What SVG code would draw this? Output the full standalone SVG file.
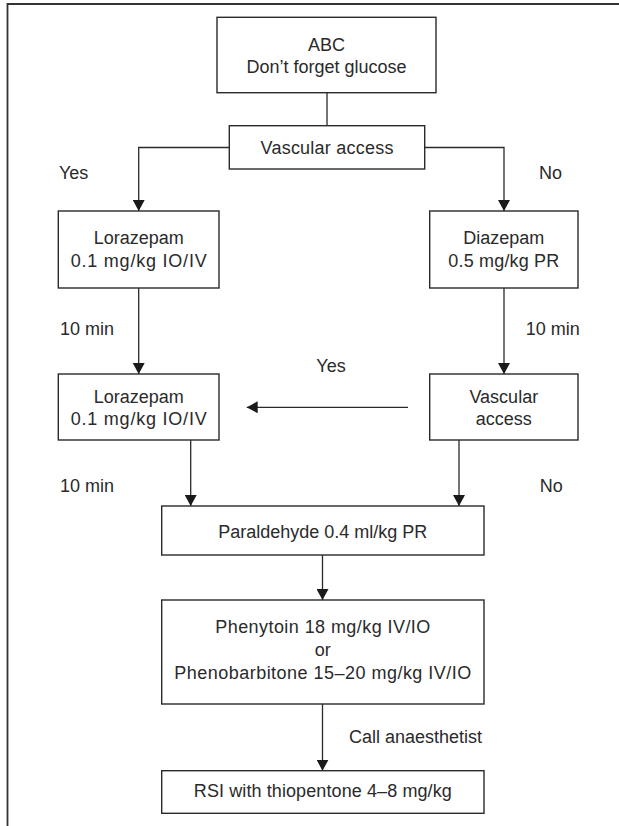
<svg xmlns="http://www.w3.org/2000/svg" width="619" height="826" viewBox="0 0 619 826">
<style>
.box{fill:#fff;stroke:#2a2a2a;stroke-width:1.4}
.t{font-family:"Liberation Sans",Arial,sans-serif;font-size:18px;fill:#2a2a2a}
.c{text-anchor:middle}
.ln{fill:none;stroke:#2a2a2a;stroke-width:1.3}
.frame{fill:none;stroke:#333;stroke-width:1.8}
</style>
<defs>
<marker id="ah" markerUnits="userSpaceOnUse" markerWidth="11" markerHeight="12" refX="11" refY="6" orient="auto" viewBox="0 0 11 12">
<path d="M0,0 L11,6 L0,12 z" fill="#1a1a1a"/>
</marker>
</defs>
<rect width="619" height="826" fill="#fff"/>
<path class="frame" d="M7.5,826 V4 H619"/>

<g id="connectors">
<path class="ln" d="M327,92.7 V125.7"/>
<path class="ln" d="M229.3,147.5 H138.7 V211" marker-end="url(#ah)"/>
<path class="ln" d="M424.7,147.5 H504 V211" marker-end="url(#ah)"/>
<path class="ln" d="M138.7,288 V374" marker-end="url(#ah)"/>
<path class="ln" d="M504,288 V374" marker-end="url(#ah)"/>
<path class="ln" d="M408,407.3 H246.7" marker-end="url(#ah)"/>
<path class="ln" d="M190.7,440 V506" marker-end="url(#ah)"/>
<path class="ln" d="M459,440 V506" marker-end="url(#ah)"/>
<path class="ln" d="M322.5,555 V600" marker-end="url(#ah)"/>
<path class="ln" d="M322.5,704 V770.7" marker-end="url(#ah)"/>
<text class="t" x="59" y="179">Yes</text>
<text class="t" x="539" y="179">No</text>
<text class="t" x="60" y="335">10 min</text>
<text class="t" x="525.7" y="335">10 min</text>
<text class="t c" x="331" y="372">Yes</text>
<text class="t" x="60" y="491.7">10 min</text>
<text class="t" x="539.7" y="491.7">No</text>
<text class="t" x="349" y="743.3">Call anaesthetist</text>
</g>

<g id="abc">
<rect class="box" x="217" y="17.3" width="219" height="75.4"/>
<text class="t c" x="326.5" y="50.7">ABC</text>
<text class="t c" x="326.5" y="73.3">Don’t forget glucose</text>
</g>

<g id="vascular1">
<rect class="box" x="229.3" y="125.7" width="195.4" height="43.3"/>
<text class="t c" x="327" y="153.8" textLength="133" lengthAdjust="spacing">Vascular access</text>
</g>

<g id="lorazepam1">
<rect class="box" x="58.3" y="211" width="160.7" height="77"/>
<text class="t c" x="138.7" y="244">Lorazepam</text>
<text class="t c" x="138.7" y="266.7" textLength="136" lengthAdjust="spacing">0.1 mg/kg IO/IV</text>
</g>

<g id="diazepam">
<rect class="box" x="429.7" y="211" width="148.3" height="77"/>
<text class="t c" x="503.8" y="244">Diazepam</text>
<text class="t c" x="503.8" y="266.7" textLength="111" lengthAdjust="spacing">0.5 mg/kg PR</text>
</g>

<g id="lorazepam2">
<rect class="box" x="58.3" y="374" width="160.7" height="66"/>
<text class="t c" x="138.7" y="403.3">Lorazepam</text>
<text class="t c" x="138.7" y="425" textLength="136" lengthAdjust="spacing">0.1 mg/kg IO/IV</text>
</g>

<g id="vascular2">
<rect class="box" x="429.7" y="374" width="148.3" height="66"/>
<text class="t c" x="503.8" y="403.3">Vascular</text>
<text class="t c" x="503.8" y="425">access</text>
</g>

<g id="paraldehyde">
<rect class="box" x="161.7" y="506" width="322.3" height="49"/>
<text class="t c" x="322.8" y="538.3">Paraldehyde 0.4 ml/kg PR</text>
</g>

<g id="phenytoin">
<rect class="box" x="161.7" y="600" width="322.3" height="104"/>
<text class="t c" x="322.8" y="632.7" textLength="215" lengthAdjust="spacing">Phenytoin 18 mg/kg IV/IO</text>
<text class="t c" x="322.8" y="656">or</text>
<text class="t c" x="322.8" y="679.3" textLength="297" lengthAdjust="spacing">Phenobarbitone 15–20 mg/kg IV/IO</text>
</g>

<g id="rsi">
<rect class="box" x="161.7" y="770.7" width="322.3" height="42.6"/>
<text class="t c" x="322.8" y="796.7" textLength="258" lengthAdjust="spacing">RSI with thiopentone 4–8 mg/kg</text>
</g>
</svg>
